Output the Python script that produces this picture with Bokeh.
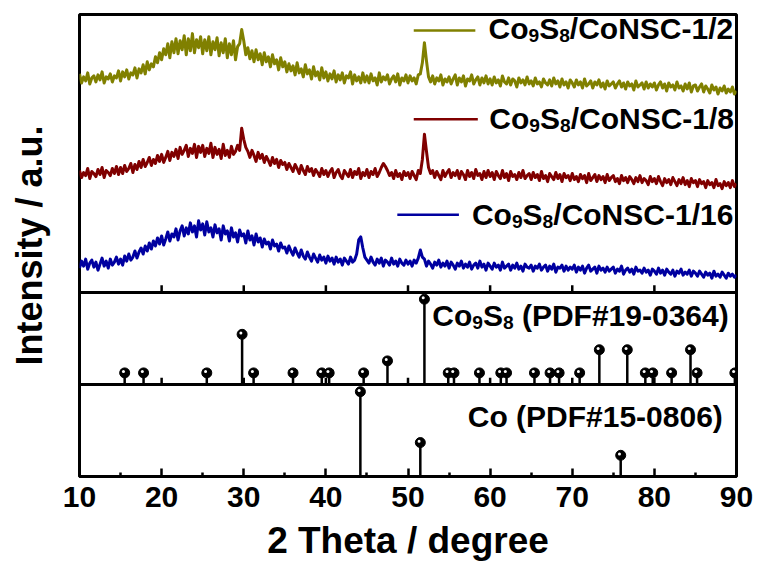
import numpy as np
from bokeh.plotting import figure
from bokeh.models import Range1d, FixedTicker
from bokeh.core.properties import value
from bokeh.embed import file_html
from bokeh.resources import INLINE

# ---------------------------------------------------------------- data
# 2 theta grid of the measured patterns (degrees, 0.25 step)
two_theta = np.arange(10.0, 90.0 + 0.125, 0.25)

# measured patterns, already offset for stacking (arbitrary units);
# one row = 5 degrees
xrd_1_2 = [
    217, 208, 214, 210, 218, 207, 213, 215, 209, 216, 211, 219, 208, 214, 212, 217, 209, 215, 213, 220,
    210, 219, 214, 221, 212, 218, 216, 223, 213, 222, 218, 226, 217, 229, 221, 227, 224, 234, 228, 238,
    231, 242, 236, 247, 233, 249, 238, 252, 237, 250, 241, 255, 236, 252, 240, 257, 238, 251, 243, 254,
    237, 251, 240, 254, 236, 249, 241, 253, 235, 248, 238, 252, 233, 247, 236, 250, 231, 244, 247, 261,
    250, 236, 243, 232, 240, 229, 241, 231, 237, 226, 238, 229, 234, 224, 236, 227, 231, 221, 233, 224,
    229, 219, 227, 220, 225, 216, 228, 218, 222, 214, 226, 217, 221, 212, 224, 215, 219, 211, 223, 213,
    219, 210, 217, 212, 220, 209, 216, 211, 218, 208, 215, 213, 219, 207, 216, 210, 214, 208, 218, 209,
    215, 208, 217, 210, 213, 206, 218, 209, 214, 211, 216, 207, 212, 215, 209, 217, 206, 213, 210, 216,
    208, 215, 210, 213, 207, 216, 217, 228, 248, 230, 214, 209, 215, 207, 213, 210, 216, 206, 212, 209,
    214, 207, 212, 216, 206, 213, 209, 215, 205, 212, 210, 216, 207, 211, 214, 206, 213, 208, 215, 207,
    212, 206, 214, 208, 211, 205, 215, 209, 207, 213, 206, 212, 210, 204, 213, 208, 211, 206, 214, 207,
    210, 205, 213, 207, 209, 204, 212, 208, 206, 211, 205, 213, 207, 210, 204, 212, 206, 209, 203, 211,
    208, 204, 211, 206, 209, 203, 212, 205, 207, 210, 203, 209, 206, 211, 204, 208, 202, 210, 205, 207,
    209, 203, 207, 210, 204, 208, 202, 209, 205, 207, 201, 210, 204, 206, 208, 202, 209, 203, 207, 204,
    208, 201, 206, 209, 203, 207, 200, 208, 204, 206, 201, 209, 203, 205, 200, 207, 202, 208, 199, 205,
    206, 200, 204, 207, 199, 205, 202, 198, 206, 201, 204, 197, 203, 200, 205, 198, 202, 199, 204, 197,
    200,
]
xrd_1_8 = [
    121, 114, 119, 116, 123, 113, 120, 118, 115, 122, 117, 124, 114, 121, 119, 116, 123, 118, 125, 117,
    124, 118, 126, 120, 123, 128, 119, 127, 122, 130, 124, 132, 125, 129, 134, 126, 132, 128, 136, 130,
    137, 129, 134, 140, 131, 139, 135, 142, 133, 144, 137, 141, 146, 135, 143, 138, 147, 134, 145, 139,
    146, 135, 143, 138, 148, 134, 144, 137, 142, 133, 147, 136, 141, 134, 145, 137, 140, 146, 141, 163,
    152, 144, 140, 134, 141, 136, 130, 139, 133, 137, 129, 135, 131, 126, 134, 128, 132, 124, 131, 127,
    129, 122, 128, 124, 120, 127, 123, 118, 126, 121, 117, 125, 120, 123, 116, 122, 119, 115, 123, 117,
    121, 115, 120, 123, 114, 119, 122, 116, 113, 121, 118, 115, 122, 114, 120, 117, 123, 113, 119, 116,
    122, 114, 120, 117, 123, 115, 119, 124, 128, 125, 121, 116, 119, 113, 121, 115, 118, 112, 120, 116,
    119, 113, 120, 116, 112, 121, 118, 132, 157, 140, 124, 118, 121, 114, 120, 116, 112, 121, 115, 119,
    122, 114, 119, 116, 121, 113, 120, 117, 112, 121, 115, 119, 113, 122, 116, 118, 112, 120, 114, 121,
    115, 119, 112, 120, 116, 113, 121, 114, 118, 111, 120, 115, 117, 112, 119, 114, 121, 113, 116, 118,
    112, 119, 114, 117, 111, 120, 113, 116, 110, 118, 115, 112, 119, 113, 117, 110, 118, 114, 116, 111,
    118, 112, 115, 110, 117, 113, 116, 109, 118, 111, 114, 117, 110, 116, 112, 115, 109, 117, 111, 114,
    116, 110, 113, 108, 116, 111, 114, 109, 115, 112, 108, 114, 110, 116, 109, 113, 111, 107, 115, 110,
    113, 108, 115, 110, 106, 113, 109, 112, 107, 114, 110, 106, 112, 108, 114, 107, 111, 105, 113, 109,
    111, 105, 112, 108, 110, 104, 111, 107, 109, 104, 112, 106, 108, 103, 110, 106, 109, 104, 111, 105,
    108,
]
xrd_1_16 = [
    24, 31, 26, 33, 23, 29, 32, 25, 30, 22, 28, 34, 26, 31, 24, 33, 27, 30, 35, 28,
    33, 27, 36, 31, 38, 32, 35, 41, 34, 40, 44, 38, 46, 41, 49, 43, 51, 46, 54, 48,
    56, 47, 53, 60, 51, 58, 55, 63, 52, 61, 66, 56, 64, 58, 69, 60, 66, 55, 71, 62,
    68, 57, 70, 60, 64, 55, 67, 59, 63, 52, 66, 58, 61, 51, 64, 55, 59, 50, 62, 56,
    58, 49, 61, 52, 56, 47, 58, 50, 54, 45, 53, 48, 50, 43, 52, 46, 48, 41, 49, 44,
    45, 39, 46, 41, 37, 44, 39, 35, 42, 36, 33, 40, 35, 31, 38, 34, 30, 37, 32, 35,
    29, 36, 31, 34, 28, 35, 30, 33, 27, 34, 31, 28, 35, 30, 32, 38, 52, 55, 44, 35,
    32, 29, 35, 30, 27, 33, 29, 34, 26, 32, 30, 27, 34, 28, 31, 26, 33, 29, 27, 32,
    28, 31, 26, 32, 29, 34, 42, 35, 33, 26, 31, 28, 24, 30, 27, 32, 25, 29, 26, 31,
    24, 30, 27, 23, 29, 26, 31, 24, 28, 25, 30, 23, 27, 29, 24, 31, 25, 28, 22, 29,
    26, 23, 29, 25, 27, 22, 30, 24, 26, 28, 22, 27, 24, 29, 23, 26, 21, 28, 25, 24,
    27, 21, 26, 24, 28, 22, 25, 27, 21, 26, 23, 28, 20, 25, 24, 27, 21, 26, 22, 25,
    23, 27, 20, 25, 22, 26, 19, 24, 27, 21, 23, 25, 19, 26, 22, 24, 20, 25, 21, 23,
    25, 19, 23, 21, 26, 18, 22, 24, 20, 23, 18, 25, 21, 22, 19, 24, 20, 22, 17, 23,
    21, 18, 24, 19, 22, 17, 23, 20, 18, 22, 16, 21, 19, 23, 17, 20, 18, 22, 16, 21,
    19, 16, 21, 18, 15, 20, 17, 19, 14, 21, 16, 18, 15, 20, 17, 14, 19, 16, 18, 15,
    17,
]

# reference cards (position in 2 theta, relative intensity)
co9s8_pos = [15.5, 17.8, 25.5, 29.8, 31.2, 36.0, 39.5, 40.4, 44.6, 47.5,
             52.0, 54.9, 55.6, 58.7, 61.3, 62.0, 65.4, 67.3, 68.4, 70.9,
             73.3, 76.7, 78.9, 79.8, 82.1, 84.4, 85.2, 89.8]
co9s8_int = [14, 14, 14, 59, 14, 14, 14, 14, 14, 28,
             100, 14, 14, 14, 14, 14, 14, 14, 14, 14,
             41, 41, 14, 14, 14, 41, 14, 14]
co_pos = [44.2, 51.5, 75.9]
co_int = [100, 40, 25]

x_ticks = [10, 20, 30, 40, 50, 60, 70, 80, 90]
x_minor = [15, 25, 35, 45, 55, 65, 75, 85]

# ---------------------------------------------------------------- layout
FONT = "Liberation Sans"
PANEL_PX = {"co": (0, 91), "ref": (91, 183), "xrd": (183, 459)}
PANEL_SPAN = {"co": 108.0, "ref": 108.0, "xrd": 276.0}
TOTAL_PX = 459


def panel_range(name):
    lo, hi = PANEL_PX[name]
    scale = PANEL_SPAN[name] / (hi - lo)
    start = -lo * scale
    return Range1d(start, start + TOTAL_PX * scale), scale


co_range, co_scale = panel_range("co")
ref_range, ref_scale = panel_range("ref")
xrd_range, xrd_scale = panel_range("xrd")

p = figure(width=761, height=563, output_backend="svg", toolbar_location=None,
           x_range=Range1d(10, 90), y_range=co_range,
           min_border_left=79, min_border_right=25, min_border_top=14,
           min_border_bottom=0)
p.extra_y_ranges = {"ref": ref_range, "xrd": xrd_range}
p.grid.visible = False
p.outline_line_color = "black"
p.outline_line_width = 3
p.background_fill_color = "white"
p.border_fill_color = "white"

# x axis
xa = p.xaxis[0]
xa.ticker = FixedTicker(ticks=x_ticks, minor_ticks=x_minor)
xa.major_tick_in = 8
xa.major_tick_out = 0
xa.minor_tick_in = 4
xa.minor_tick_out = 0
xa.major_tick_line_width = 2.5
xa.minor_tick_line_width = 2.5
xa.major_tick_line_color = "black"
xa.minor_tick_line_color = "black"
xa.axis_line_width = 3
xa.axis_line_color = "black"
xa.major_label_text_font = FONT
xa.major_label_text_font_style = "bold"
xa.major_label_text_font_size = "30px"
xa.major_label_text_color = "black"
xa.major_label_standoff = 10
xa.axis_label = "2 Theta / degree"
xa.axis_label_text_font = FONT
xa.axis_label_text_font_style = "bold"
xa.axis_label_text_font_size = "37px"
xa.axis_label_text_color = "black"
xa.axis_label_standoff = 10

# y axis: title only
ya = p.yaxis[0]
ya.ticker = FixedTicker(ticks=[])
ya.axis_line_color = None
ya.major_tick_line_color = None
ya.minor_tick_line_color = None
ya.major_label_text_font_size = "0px"
ya.axis_label = "Intensity / a.u."
ya.axis_label_text_font = FONT
ya.axis_label_text_font_style = "bold"
ya.axis_label_text_font_size = "36px"
ya.axis_label_text_color = "black"
ya.axis_label_standoff = 30

# panel separators with inward ticks
for name, scale in (("xrd", xrd_scale), ("ref", ref_scale)):
    p.hspan(y=[0], line_color="black", line_width=3, y_range_name=name)
    p.segment(x0=x_ticks, y0=[0] * len(x_ticks), x1=x_ticks,
              y1=[7 * scale] * len(x_ticks), line_color="black",
              line_width=2.5, y_range_name=name)

# measured patterns
colors = {"1/2": "#808000", "1/8": "#800000", "1/16": "#0000A0"}
for ys, key in ((xrd_1_16, "1/16"), (xrd_1_8, "1/8"), (xrd_1_2, "1/2")):
    p.line(two_theta, ys, line_color=colors[key], line_width=3,
           line_join="round", y_range_name="xrd")


# reference sticks with ball heads
def sticks(pos, inten, rng, scale):
    pos = np.asarray(pos, dtype=float)
    inten = np.asarray(inten, dtype=float)
    p.segment(x0=pos, y0=np.zeros_like(pos), x1=pos, y1=inten,
              line_color="black", line_width=2.5, y_range_name=rng)
    p.scatter(pos, inten, size=10, fill_color="black", line_color="black",
              y_range_name=rng)
    p.scatter(pos - 0.15, inten + 1.3 * scale, size=3, fill_color="white",
              line_color=None, y_range_name=rng)


sticks(co9s8_pos, co9s8_int, "ref", ref_scale)
sticks(co_pos, co_int, "default", co_scale)

# text with subscripts (Arial-bold advance widths, per 1000 em)
ADV = {'C': 722, 'o': 611, 'S': 667, '/': 278, 'N': 722, '-': 333,
       ' ': 278, '(': 333, ')': 333, 'P': 667, 'D': 722, 'F': 611, '#': 556}


def text_width(s, size):
    return sum(ADV.get(ch, 556) for ch in s) * size / 1000.0


def rich_text(x, y, parts, size, rng, sub_ratio=0.64, sub_drop=7):
    widths = [text_width(t, size * sub_ratio if sub else size) for t, sub in parts]
    cursor = -sum(widths) / 2.0
    for (t, sub), w in zip(parts, widths):
        fs = size * sub_ratio if sub else size
        shown = t.lstrip(" ")
        lead = text_width(t[:len(t) - len(shown)], fs)
        p.text(x=[x], y=[y], text=[shown], x_offset=cursor + lead,
               y_offset=sub_drop if sub else 0,
               text_font=value(FONT), text_font_style="bold",
               text_font_size=f"{fs:.1f}px", text_color="black",
               text_align="left", text_baseline="alphabetic",
               y_range_name=rng)
        cursor += w


def co9s8(tail):
    return [("Co", False), ("9", True), ("S", False), ("8", True), (tail, False)]


# legend swatches and names
legend = [("1/2", 50.7, 58.2, 260, 74.7, 262),
          ("1/8", 50.7, 58.5, 172, 74.8, 173),
          ("1/16", 48.7, 56.2, 77, 73.7, 77)]
for key, x0, x1, ysw, xt, yt in legend:
    p.segment(x0=[x0], y0=[ysw], x1=[x1], y1=[ysw], line_color=colors[key],
              line_width=2.5, y_range_name="xrd")
    rich_text(xt, yt, co9s8("/CoNSC-" + key), 30, "xrd")

rich_text(71.0, 81.0, co9s8(" (PDF#19-0364)"), 30, "ref")
rich_text(72.8, 71.0, [("Co (PDF#15-0806)", False)], 30, "default")

open("out.html", "w").write(file_html(p, INLINE))
